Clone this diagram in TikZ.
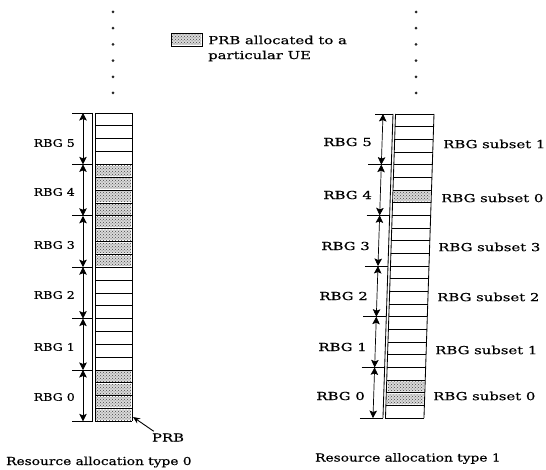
\documentclass[tikz,border=0pt]{standalone}
\usepackage{fontspec}
\setmainfont{DejaVu Serif}
\newfontfamily\wideA{DejaVu Serif}[FakeStretch=1.35,FakeBold=0.5]
\newfontfamily\wideB{DejaVu Serif}[FakeStretch=1.2,FakeBold=0.5]
\newfontfamily\wideC{DejaVu Serif}[FakeStretch=1.25,FakeBold=0.5]
\usetikzlibrary{arrows.meta,patterns}
\tikzset{
  cell/.style={line width=0.75pt},
  edge/.style={line width=0.85pt},
  tick/.style={line width=0.6pt},
  rbgarrow/.style={line width=0.7pt,{Stealth[length=7.5pt,width=7.5pt,inset=1.5pt]}-{Stealth[length=7.5pt,width=7.5pt,inset=1.5pt]}},
  shadecell/.style={fill=gray!30,postaction={pattern=crosshatch dots,pattern color=gray!55!black}},
  lblL/.style={inner sep=0pt,anchor=east,font=\wideB\fontsize{10.5}{12}\selectfont},
  lblR/.style={inner sep=0pt,anchor=east,font=\wideA\fontsize{11}{13}\selectfont},
  lblS/.style={inner sep=0pt,anchor=west,font=\wideA\fontsize{11}{13}\selectfont},
  capt/.style={inner sep=0pt,anchor=base west,font=\wideC\fontsize{11}{13}\selectfont},
  dotc/.style={fill=black!85},
}
\begin{document}
\begin{tikzpicture}[x=1pt,y=-1pt]
\useasboundingbox (0,0) rectangle (546,470);
% ---------- dots ----------
\foreach \i in {0,...,5}{
  \fill[dotc] (113,{12+16.2*\i}) circle (1.5);
  \fill[dotc] (416,{12+16.2*\i}) circle (1.5);
}
% ---------- legend ----------
\fill[shadecell] (172,34) rectangle (201,45);
\draw[cell] (171,33) rectangle (202,46);
\node[inner sep=0pt,anchor=west,font=\wideA\fontsize{11}{13}\selectfont] (leg1) at (208,40) {PRB allocated to a};
\node[inner sep=0pt,anchor=west,font=\wideA\fontsize{11}{13}\selectfont] (leg2) at (208,56) {particular UE};
% ---------- left column (type 0) ----------
\def\Lh{12.85}
\foreach \k in {4,...,11,20,21,22,23}
  \fill[shadecell] (96.2,{113+\k*\Lh+1.2}) rectangle (130.8,{113+(\k+1)*\Lh-1.2});
\foreach \k in {0,...,24}
  \draw[cell] (95,{113+\k*\Lh}) -- (132,{113+\k*\Lh});
\draw[edge] (92.5,113) -- (92.5,{113+24*\Lh});
\draw[edge] (95,113) -- (95,{113+24*\Lh});
\draw[edge] (132,113) -- (132,{113+24*\Lh});
\foreach \j in {0,...,6}
  \draw[tick] (72,{113+4*\j*\Lh}) -- (92.5,{113+4*\j*\Lh});
\foreach \j in {0,...,5}
  \draw[rbgarrow] (83,{113+4*\j*\Lh}) -- (83,{113+4*(\j+1)*\Lh});
\node[lblL] (l5) at (75,143) {RBG 5};
\node[lblL] (l4) at (75,192) {RBG 4};
\node[lblL] (l3) at (75,245) {RBG 3};
\node[lblL] (l2) at (75,295) {RBG 2};
\node[lblL] (l1) at (75,347) {RBG 1};
\node[lblL] (l0) at (75,397) {RBG 0};
% PRB pointer
\node[inner sep=0pt,font=\wideA\fontsize{11}{13}\selectfont] (prb) at (168,437.5) {PRB};
\coordinate (prbtip) at (133,417);
\draw[line width=0.9pt,-{Stealth[length=7pt,width=6pt]}] (prb.north west) ++(2,-2) -- (prbtip);
% ---------- right column (type 1) ----------
\begin{scope}[shift={(0,114)},xslant=0.033]
\def\Rh{12.67}
\foreach \k in {6,21,22}
  \fill[shadecell] (396.7,{\k*\Rh+1.2}) rectangle (432.8,{(\k+1)*\Rh-1.2});
\foreach \k in {0,...,24}
  \draw[cell] (395.5,{\k*\Rh}) -- (434,{\k*\Rh});
\draw[edge] (393,0) -- (393,{24*\Rh});
\draw[edge] (395.5,0) -- (395.5,{24*\Rh});
\draw[edge] (434,0) -- (434,{24*\Rh});
\draw[tick] (375,0) -- (393,0);
\foreach \j in {1,...,6}
  \draw[tick] (370,{4*\j*\Rh}) -- (393,{4*\j*\Rh});
\foreach \j in {0,...,5}
  \draw[rbgarrow] (383,{4*\j*\Rh}) -- (383,{4*(\j+1)*\Rh});
\end{scope}
\node[lblR] (r5) at (372,142) {RBG 5};
\node[lblR] (r4) at (372,195) {RBG 4};
\node[lblR] (r3) at (370,246) {RBG 3};
\node[lblR] (r2) at (368,296) {RBG 2};
\node[lblR] (r1) at (367,347) {RBG 1};
\node[lblR] (r0) at (365,396) {RBG 0};
\node[lblS] (s5) at (443,144) {RBG subset 1};
\node[lblS] (s4) at (441,198) {RBG subset 0};
\node[lblS] (s3) at (438,247) {RBG subset 3};
\node[lblS] (s2) at (437,297) {RBG subset 2};
\node[lblS] (s1) at (435,350) {RBG subset 1};
\node[lblS] (s0) at (433,396) {RBG subset 0};
% ---------- captions ----------
\node[capt] (c0) at (6,465) {Resource allocation type 0};
\node[capt] (c1) at (315,461.5) {Resource allocation type 1};
\end{tikzpicture}
\end{document}
